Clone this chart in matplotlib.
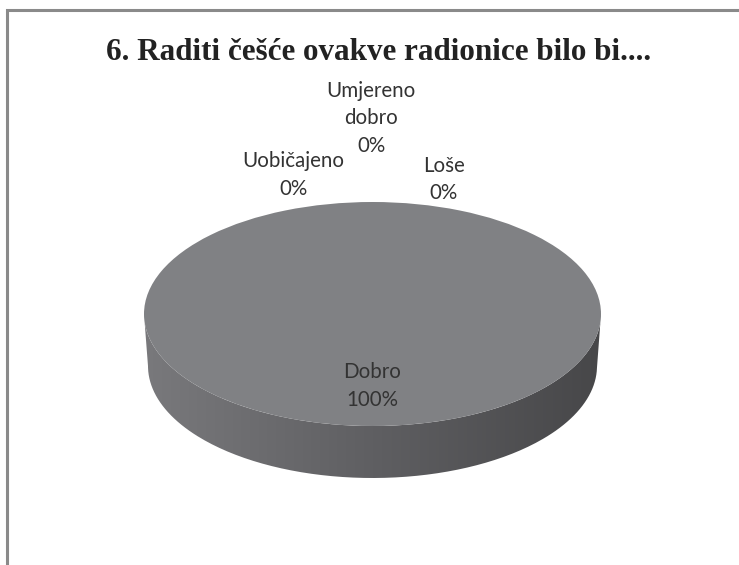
import numpy as np
import matplotlib
matplotlib.use('Agg')
import matplotlib.pyplot as plt
from matplotlib.path import Path
from matplotlib.patches import PathPatch
from matplotlib.colors import LinearSegmentedColormap

title = '6. Raditi češće ovakve radionice bilo bi....'
categories = ['Dobro', 'Loše', 'Umjereno\ndobro', 'Uobičajeno']
values = [100, 0, 0, 0]

W, H = 739, 565
fig = plt.figure(figsize=(W / 100, H / 100), dpi=100, facecolor='white')

# pixel axes, y goes down like in the picture
bg = fig.add_axes([0, 0, 1, 1])
bg.set_xlim(0, W)
bg.set_ylim(H, 0)
bg.axis('off')

# frame, only top and left survive in the scan
bg.plot([6.5, 6.5, W], [H, 10, 10], color='#8a8a8a', lw=2.2, solid_joinstyle='miter', clip_on=False)

bg.text(378.5, 52, title, family='Liberation Serif', weight='bold', fontsize=22.4,
        color='#222222', ha='center', va='center')

# side of the disc
cx, cy, rx, ry = 372.5, 314, 228.5, 112
t = np.linspace(np.pi, 0, 200)
top_edge = np.column_stack([cx + rx * np.cos(t), cy + ry * np.sin(t)])
t2 = np.linspace(0, np.pi, 200)
low_edge = np.column_stack([cx + (rx - 4) * np.cos(t2), cy + 52 + (ry - 0) * np.sin(t2)])
pts = np.vstack([top_edge, low_edge, top_edge[:1]])
side = PathPatch(Path(pts), facecolor='none', edgecolor='none')
bg.add_patch(side)
cmap = LinearSegmentedColormap.from_list('side', ['#79797c', '#5f5f62', '#474749'])
im = bg.imshow(np.linspace(0, 1, 256).reshape(1, -1), cmap=cmap, aspect='auto',
               extent=[cx - rx, cx + rx, cy + 60 + ry, cy], zorder=1)
im.set_clip_path(side)
bg.set_xlim(0, W)
bg.set_ylim(H, 0)

# top of the disc, squashed pie
pie_ax = fig.add_axes([(cx - rx) / W, 1 - (cy + ry) / H, 2 * rx / W, 2 * ry / H])
pie_ax.pie(values, colors=['#808184'] * len(values), radius=1, startangle=90)
pie_ax.set_aspect('auto')
pie_ax.set_xlim(-1, 1)
pie_ax.set_ylim(-1, 1)
pie_ax.patch.set_alpha(0)

# data labels
label_pos = [(372, 386), (444, 179.5), (371, 118.5), (293, 175)]
for name, val, (x, y) in zip(categories, values, label_pos):
    pie_ax.annotate('%s\n%d%%' % (name, val), xy=(x, y), xycoords=bg.transData,
                    family='Lato', fontsize=14.8, color='#333333', ha='center', va='center',
                    linespacing=1.48, annotation_clip=False)

fig.savefig('out.png', dpi=100, facecolor='white')
